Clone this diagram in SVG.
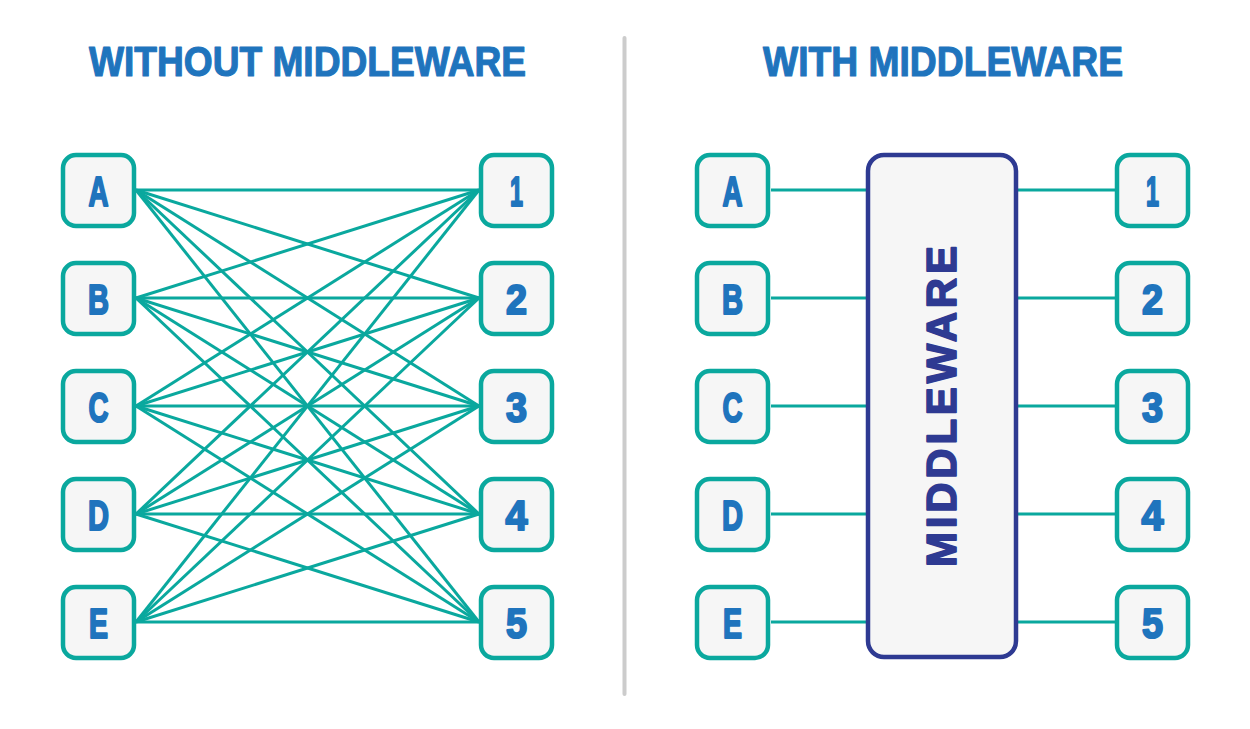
<svg xmlns="http://www.w3.org/2000/svg" width="1250" height="729" viewBox="0 0 1250 729">
<style>
.title{font-family:"Liberation Sans",Arial,sans-serif;font-weight:bold;font-size:43px;fill:#1f74bd;stroke:#1f74bd;stroke-width:1.2;stroke-linejoin:round;text-anchor:middle}
.box{fill:#f6f6f6;stroke:#0aa89e;stroke-width:4.5}
.lbl{font-family:"Liberation Sans",Arial,sans-serif;font-weight:bold;font-size:43px;fill:#1f74bd;stroke:#1f74bd;stroke-width:2.2;stroke-linejoin:round;text-anchor:middle}
.conn line{stroke:#0aa89e;stroke-width:3}
.mw{fill:#f6f6f6;stroke:#2e3a92;stroke-width:4.5}
.mwt{font-family:"Liberation Sans",Arial,sans-serif;font-weight:bold;font-size:42px;fill:#2e3a92;stroke:#2e3a92;stroke-width:1.6;stroke-linejoin:round;text-anchor:middle}
</style>
<rect width="1250" height="729" fill="#ffffff"/>
<line x1="624.5" y1="38" x2="624.5" y2="694" stroke="#cccccc" stroke-width="4" stroke-linecap="round"/>
<text class="title" x="307.5" y="76" textLength="437" lengthAdjust="spacingAndGlyphs">WITHOUT MIDDLEWARE</text>
<text class="title" x="943" y="76" textLength="360" lengthAdjust="spacingAndGlyphs">WITH MIDDLEWARE</text>

<g class="conn" id="connectors">
<line x1="136" y1="190" x2="479" y2="190"/><line x1="136" y1="190" x2="479" y2="298"/><line x1="136" y1="190" x2="479" y2="406"/><line x1="136" y1="190" x2="479" y2="514"/><line x1="136" y1="190" x2="479" y2="622"/>
<line x1="136" y1="298" x2="479" y2="190"/><line x1="136" y1="298" x2="479" y2="298"/><line x1="136" y1="298" x2="479" y2="406"/><line x1="136" y1="298" x2="479" y2="514"/><line x1="136" y1="298" x2="479" y2="622"/>
<line x1="136" y1="406" x2="479" y2="190"/><line x1="136" y1="406" x2="479" y2="298"/><line x1="136" y1="406" x2="479" y2="406"/><line x1="136" y1="406" x2="479" y2="514"/><line x1="136" y1="406" x2="479" y2="622"/>
<line x1="136" y1="514" x2="479" y2="190"/><line x1="136" y1="514" x2="479" y2="298"/><line x1="136" y1="514" x2="479" y2="406"/><line x1="136" y1="514" x2="479" y2="514"/><line x1="136" y1="514" x2="479" y2="622"/>
<line x1="136" y1="622" x2="479" y2="190"/><line x1="136" y1="622" x2="479" y2="298"/><line x1="136" y1="622" x2="479" y2="406"/><line x1="136" y1="622" x2="479" y2="514"/><line x1="136" y1="622" x2="479" y2="622"/>
<line x1="771" y1="190" x2="866" y2="190"/><line x1="771" y1="298" x2="866" y2="298"/><line x1="771" y1="406" x2="866" y2="406"/><line x1="771" y1="514" x2="866" y2="514"/><line x1="771" y1="622" x2="866" y2="622"/>
<line x1="1018" y1="190" x2="1115" y2="190"/><line x1="1018" y1="298" x2="1115" y2="298"/><line x1="1018" y1="406" x2="1115" y2="406"/><line x1="1018" y1="514" x2="1115" y2="514"/><line x1="1018" y1="622" x2="1115" y2="622"/>
</g>

<g id="L-A"><rect class="box" x="63" y="155" width="71" height="71" rx="13"/><text class="lbl" x="98.5" y="206" textLength="20" lengthAdjust="spacingAndGlyphs">A</text></g>
<g id="L-B"><rect class="box" x="63" y="263" width="71" height="71" rx="13"/><text class="lbl" x="98.5" y="314" textLength="21" lengthAdjust="spacingAndGlyphs">B</text></g>
<g id="L-C"><rect class="box" x="63" y="371" width="71" height="71" rx="13"/><text class="lbl" x="98.5" y="422" textLength="20" lengthAdjust="spacingAndGlyphs">C</text></g>
<g id="L-D"><rect class="box" x="63" y="479" width="71" height="71" rx="13"/><text class="lbl" x="98.5" y="530" textLength="21" lengthAdjust="spacingAndGlyphs">D</text></g>
<g id="L-E"><rect class="box" x="63" y="587" width="71" height="71" rx="13"/><text class="lbl" x="98.5" y="638" textLength="19" lengthAdjust="spacingAndGlyphs">E</text></g>

<g id="L-1"><rect class="box" x="481" y="155" width="71" height="71" rx="13"/><text class="lbl" x="516.5" y="206" textLength="13" lengthAdjust="spacingAndGlyphs">1</text></g>
<g id="L-2"><rect class="box" x="481" y="263" width="71" height="71" rx="13"/><text class="lbl" x="516.5" y="314" textLength="21" lengthAdjust="spacingAndGlyphs">2</text></g>
<g id="L-3"><rect class="box" x="481" y="371" width="71" height="71" rx="13"/><text class="lbl" x="516.5" y="422" textLength="21" lengthAdjust="spacingAndGlyphs">3</text></g>
<g id="L-4"><rect class="box" x="481" y="479" width="71" height="71" rx="13"/><text class="lbl" x="516.5" y="530" textLength="22" lengthAdjust="spacingAndGlyphs">4</text></g>
<g id="L-5"><rect class="box" x="481" y="587" width="71" height="71" rx="13"/><text class="lbl" x="516.5" y="638" textLength="21" lengthAdjust="spacingAndGlyphs">5</text></g>

<g id="R-A"><rect class="box" x="697" y="155" width="71" height="71" rx="13"/><text class="lbl" x="732.5" y="206" textLength="20" lengthAdjust="spacingAndGlyphs">A</text></g>
<g id="R-B"><rect class="box" x="697" y="263" width="71" height="71" rx="13"/><text class="lbl" x="732.5" y="314" textLength="21" lengthAdjust="spacingAndGlyphs">B</text></g>
<g id="R-C"><rect class="box" x="697" y="371" width="71" height="71" rx="13"/><text class="lbl" x="732.5" y="422" textLength="20" lengthAdjust="spacingAndGlyphs">C</text></g>
<g id="R-D"><rect class="box" x="697" y="479" width="71" height="71" rx="13"/><text class="lbl" x="732.5" y="530" textLength="21" lengthAdjust="spacingAndGlyphs">D</text></g>
<g id="R-E"><rect class="box" x="697" y="587" width="71" height="71" rx="13"/><text class="lbl" x="732.5" y="638" textLength="19" lengthAdjust="spacingAndGlyphs">E</text></g>

<g id="middleware"><rect class="mw" x="868" y="155" width="148" height="502" rx="16"/><text class="mwt" transform="translate(956,406.5) rotate(-90)" x="0" y="0" textLength="321" lengthAdjust="spacing">MIDDLEWARE</text></g>

<g id="R-1"><rect class="box" x="1117" y="155" width="71" height="71" rx="13"/><text class="lbl" x="1152.5" y="206" textLength="13" lengthAdjust="spacingAndGlyphs">1</text></g>
<g id="R-2"><rect class="box" x="1117" y="263" width="71" height="71" rx="13"/><text class="lbl" x="1152.5" y="314" textLength="21" lengthAdjust="spacingAndGlyphs">2</text></g>
<g id="R-3"><rect class="box" x="1117" y="371" width="71" height="71" rx="13"/><text class="lbl" x="1152.5" y="422" textLength="21" lengthAdjust="spacingAndGlyphs">3</text></g>
<g id="R-4"><rect class="box" x="1117" y="479" width="71" height="71" rx="13"/><text class="lbl" x="1152.5" y="530" textLength="22" lengthAdjust="spacingAndGlyphs">4</text></g>
<g id="R-5"><rect class="box" x="1117" y="587" width="71" height="71" rx="13"/><text class="lbl" x="1152.5" y="638" textLength="21" lengthAdjust="spacingAndGlyphs">5</text></g>
</svg>
